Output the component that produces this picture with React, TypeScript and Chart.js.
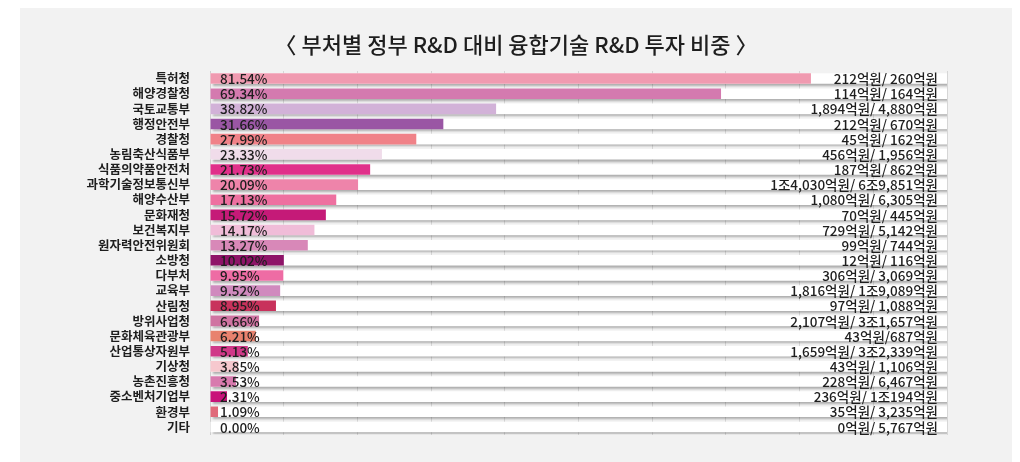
import React, { useEffect, useRef } from "react";
import { Chart, registerables } from "chart.js";

Chart.register(...registerables);

const TITLE = "〈 부처별 정부 R&D 대비 융합기술 R&D 투자 비중 〉";

const categories = [
  "특허청", "해양경찰청", "국토교통부", "행정안전부", "경찰청", "농림축산식품부",
  "식품의약품안전처", "과학기술정보통신부", "해양수산부", "문화재청", "보건복지부",
  "원자력안전위원회", "소방청", "다부처", "교육부", "산림청", "방위사업청",
  "문화체육관광부", "산업통상자원부", "기상청", "농촌진흥청", "중소벤처기업부",
  "환경부", "기타",
];

const shares = [
  81.54, 69.34, 38.82, 31.66, 27.99, 23.33, 21.73, 20.09, 17.13, 15.72, 14.17,
  13.27, 10.02, 9.95, 9.52, 8.95, 6.66, 6.21, 5.13, 3.85, 3.53, 2.31, 1.09, 0.0,
];

const amountLabels = [
  "212억원/ 260억원", "114억원/ 164억원", "1,894억원/ 4,880억원", "212억원/ 670억원",
  "45억원/ 162억원", "456억원/ 1,956억원", "187억원/ 862억원", "1조4,030억원/ 6조9,851억원",
  "1,080억원/ 6,305억원", "70억원/ 445억원", "729억원/ 5,142억원", "99억원/ 744억원",
  "12억원/ 116억원", "306억원/ 3,069억원", "1,816억원/ 1조9,089억원", "97억원/ 1,088억원",
  "2,107억원/ 3조1,657억원", "43억원/687억원", "1,659억원/ 3조2,339억원", "43억원/ 1,106억원",
  "228억원/ 6,467억원", "236억원/ 1조194억원", "35억원/ 3,235억원", "0억원/ 5,767억원",
];

const barColors = [
  "#f09ab0", "#d47aaf", "#d2b2d8", "#9a56a4", "#f08288", "#f0dcea",
  "#e0308a", "#ee84aa", "#ee70a0", "#c51a78", "#f0bcd8", "#d888b8",
  "#8e1468", "#ee6ca4", "#d08abe", "#c8325c", "#d074a2", "#e8826e",
  "#d03888", "#f6c8ce", "#d87aae", "#c8137a", "#e06a7a", "#cccccc",
];

const fullScale = categories.map(() => 100);

const FONT_KR = "'Noto Sans CJK KR', 'Noto Sans', sans-serif";

const shadowPlugin = {
  id: "bgShadow",
  beforeDatasetDraw(chart: any, args: any) {
    if (args.index === 1) {
      const ctx = chart.ctx;
      ctx.save();
      ctx.shadowColor = "rgba(0,0,0,0.28)";
      ctx.shadowOffsetX = 2;
      ctx.shadowOffsetY = 2;
      ctx.shadowBlur = 2;
    }
  },
  afterDatasetDraw(chart: any, args: any) {
    if (args.index === 1) chart.ctx.restore();
  },
};

const textPlugin = {
  id: "texts",
  afterDatasetsDraw(chart: any) {
    const ctx = chart.ctx;
    const area = chart.chartArea;
    const yScale = chart.scales.y;
    ctx.save();
    ctx.textBaseline = "middle";
    ctx.fillStyle = "#1e1e1e";
    ctx.font = `500 13.5px ${FONT_KR}`;
    categories.forEach((_, i) => {
      const y = yScale.getPixelForValue(i) + 0.5;
      ctx.textAlign = "left";
      ctx.fillText(shares[i].toFixed(2) + "%", area.left + 10, y);
      ctx.textAlign = "right";
      ctx.fillText(amountLabels[i], area.right - 9, y);
    });
    ctx.font = `500 22px ${FONT_KR}`;
    ctx.fillStyle = "#1e1e1e";
    ctx.textAlign = "center";
    ctx.fillText(TITLE, 496, 37);
    ctx.restore();
  },
};

export default function App() {
  const ref = useRef<HTMLCanvasElement>(null);
  useEffect(() => {
    document.body.style.overflow = "hidden";
    const chart = new Chart(ref.current!, {
      type: "bar",
      data: {
        labels: categories,
        datasets: [
          {
            data: shares,
            backgroundColor: barColors,
            grouped: false,
            categoryPercentage: 1,
            barPercentage: 0.7,
          } as any,
          {
            data: fullScale,
            backgroundColor: "#ffffff",
            grouped: false,
            categoryPercentage: 1,
            barPercentage: 0.7,
          } as any,
        ],
      },
      options: {
        indexAxis: "y",
        responsive: false,
        animation: false,
        layout: { padding: { top: 63, bottom: 7, left: 0, right: 65 } },
        plugins: {
          legend: { display: false },
          tooltip: { enabled: false },
          title: { display: false },
        },
        scales: {
          x: {
            min: 0,
            max: 100,
            ticks: { display: false, stepSize: 10 },
            grid: { color: "#d6d6d6", drawTicks: false },
            border: { display: false },
            afterFit: (s: any) => {
              s.height = 0;
            },
          },
          y: {
            ticks: {
              padding: 20,
              color: "#1e1e1e",
              font: { family: FONT_KR, size: 12.5, weight: "bold" },
              autoSkip: false,
            },
            grid: { display: false, drawTicks: false },
            border: { display: true, color: "#cfcfcf" },
            afterFit: (s: any) => {
              s.width = 190;
            },
          },
        },
      },
      plugins: [shadowPlugin, textPlugin],
    } as any);
    return () => chart.destroy();
  }, []);
  return (
    <div
      style={{
        marginLeft: 12,
        width: 992,
        height: 454,
        background: "#f2f2f2",
      }}
    >
      <canvas ref={ref} width={992} height={454} style={{ display: "block" }} />
    </div>
  );
}
